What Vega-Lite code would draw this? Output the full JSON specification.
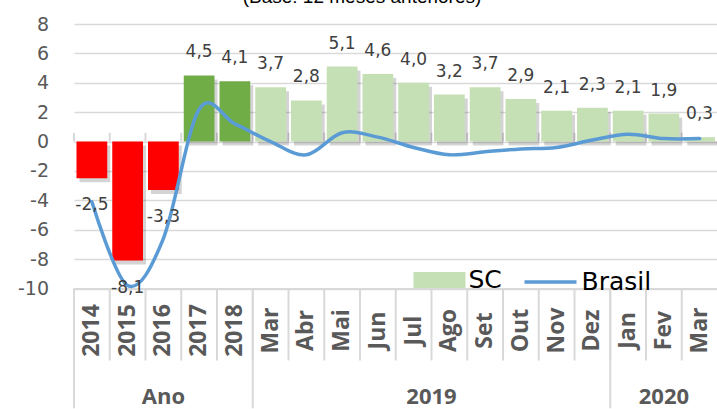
{
  "$schema": "https://vega.github.io/schema/vega-lite/v6.json",
  "width": 643.5,
  "height": 264.5,
  "padding": {"left": 5, "top": -12, "right": 0, "bottom": 0},
  "background": "#FFFFFF",
  "title": {"text": "(Base: 12 meses anteriores)", "font": "Liberation Sans", "fontSize": 19, "fontWeight": "normal", "color": "#000000", "anchor": "middle", "baseline": "alphabetic", "offset": -7, "dx": -33.75, "frame": "group"},
  "view": {"stroke": null},
  "data": {"values": [
    {"periodo": "2014", "grupo": "Ano", "SC": -2.5, "Brasil": -4.1},
    {"periodo": "2015", "grupo": "Ano", "SC": -8.1, "Brasil": -9.8},
    {"periodo": "2016", "grupo": "Ano", "SC": -3.3, "Brasil": -6.6},
    {"periodo": "2017", "grupo": "Ano", "SC": 4.5, "Brasil": 2.2},
    {"periodo": "2018", "grupo": "Ano", "SC": 4.1, "Brasil": 1.2},
    {"periodo": "2019-03", "grupo": "2019", "SC": 3.7, "Brasil": 0.0},
    {"periodo": "2019-04", "grupo": "2019", "SC": 2.8, "Brasil": -0.9},
    {"periodo": "2019-05", "grupo": "2019", "SC": 5.1, "Brasil": 0.6},
    {"periodo": "2019-06", "grupo": "2019", "SC": 4.6, "Brasil": 0.3},
    {"periodo": "2019-07", "grupo": "2019", "SC": 4.0, "Brasil": -0.4},
    {"periodo": "2019-08", "grupo": "2019", "SC": 3.2, "Brasil": -0.9},
    {"periodo": "2019-09", "grupo": "2019", "SC": 3.7, "Brasil": -0.7},
    {"periodo": "2019-10", "grupo": "2019", "SC": 2.9, "Brasil": -0.5},
    {"periodo": "2019-11", "grupo": "2019", "SC": 2.1, "Brasil": -0.4},
    {"periodo": "2019-12", "grupo": "2019", "SC": 2.3, "Brasil": 0.1},
    {"periodo": "2020-01", "grupo": "2020", "SC": 2.1, "Brasil": 0.5},
    {"periodo": "2020-02", "grupo": "2020", "SC": 1.9, "Brasil": 0.2},
    {"periodo": "2020-03", "grupo": "2020", "SC": 0.3, "Brasil": 0.2}
  ]},
  "encoding": {
    "x": {"field": "periodo", "type": "ordinal", "scale": {"type": "band", "paddingInner": 0, "paddingOuter": 0},
          "axis": {"orient": "bottom", "ticks": false, "domain": true, "domainColor": "#D9D9D9", "domainWidth": 2, "grid": false, "title": null,
                   "labelAngle": 270, "labelAlign": "center", "labelBaseline": "middle", "labelPadding": 41.5, "labelOverlap": false, "labelBound": false, "labelFlush": false,
                   "labelFont": "Open Sans", "labelFontSize": 23, "labelFontWeight": "bold", "labelColor": "#595959",
                   "labelExpr": "length(datum.value) > 4 ? ['Jan','Fev','Mar','Abr','Mai','Jun','Jul','Ago','Set','Out','Nov','Dez'][toNumber(substring(datum.value, 5, 7)) - 1] : datum.value"}}
  },
  "layer": [
    {
      "mark": {"type": "rule", "color": "#D9D9D9", "strokeWidth": 2},
      "encoding": {
        "x": {"field": "periodo", "type": "ordinal", "bandPosition": 0},
        "y": {"datum": -10, "type": "quantitative"},
        "y2": {"datum": -14.9}
      }
    },
    {
      "transform": [{"filter": "datum.periodo === '2014' || datum.periodo === '2019-03' || datum.periodo === '2020-01'"}],
      "mark": {"type": "rule", "color": "#D9D9D9", "strokeWidth": 2},
      "encoding": {
        "x": {"field": "periodo", "type": "ordinal", "bandPosition": 0},
        "y": {"datum": -10, "type": "quantitative"},
        "y2": {"datum": -18.15}
      }
    },
    {
      "mark": {"type": "rule", "color": "#D9D9D9", "strokeWidth": 2},
      "encoding": {
        "x": {"field": "periodo", "type": "ordinal", "bandPosition": 0},
        "y": {"datum": 0, "type": "quantitative"},
        "y2": {"datum": 0.6}
      }
    },
    {
      "mark": {"type": "bar", "color": "#000000", "opacity": 0.17, "width": {"band": 0.86}, "xOffset": 3, "yOffset": 4},
      "encoding": {
        "y": {"field": "SC", "type": "quantitative", "title": null}
      }
    },
    {
      "mark": {"type": "bar", "width": {"band": 0.86}},
      "encoding": {
        "y": {"field": "SC", "type": "quantitative", "title": null,
              "scale": {"domain": [-10, 8], "nice": false},
              "axis": {"values": [-10, -8, -6, -4, -2, 0, 2, 4, 6, 8], "tickCount": 20, "format": "d", "domain": false, "ticks": false, "labelPadding": 25.5, "labelOverlap": false,
                       "minExtent": 68.5, "maxExtent": 68.5, "labelExpr": "replace(datum.label, '\u2212', '-')",
                       "labelFont": "DejaVu Sans", "labelFontSize": 19, "labelColor": "#595959", "grid": true, "gridColor": "#D9D9D9", "gridWidth": 1.5, "title": null}},
        "color": {
          "condition": [
            {"test": "datum.SC < 0", "value": "#FF0000"},
            {"test": "datum.grupo === 'Ano'", "value": "#70AD47"}
          ],
          "value": "#C5E0B4"
        }
      }
    },
    {
      "transform": [{"filter": "datum.SC > 1000"}],
      "mark": {"type": "bar", "width": {"band": 0.86}},
      "encoding": {
        "y": {"field": "SC", "type": "quantitative", "title": null},
        "fill": {"datum": "SC", "scale": {"domain": ["SC"], "range": ["#C5E0B4"]},
                 "legend": {"orient": "none", "legendX": 339.5, "legendY": 230, "title": null, "symbolType": "M-1,-0.3077H1V0.3077H-1Z", "symbolSize": 2704, "symbolStrokeWidth": 0,
                            "labelFont": "DejaVu Sans", "labelFontSize": 25, "labelColor": "#000000", "labelOffset": 3, "padding": 0}}
      }
    },
    {
      "mark": {"type": "line", "interpolate": "cardinal", "strokeWidth": 3.5, "strokeCap": "round"},
      "encoding": {
        "y": {"field": "Brasil", "type": "quantitative", "title": null},
        "stroke": {"datum": "Brasil", "scale": {"domain": ["Brasil"], "range": ["#5B9BD5"]},
                   "legend": {"orient": "none", "legendX": 448.5, "legendY": 230, "title": null, "symbolType": "stroke", "symbolSize": 2704, "symbolStrokeWidth": 3.5,
                              "labelFont": "DejaVu Sans", "labelFontSize": 25, "labelColor": "#000000", "labelOffset": 3, "padding": 0}}
      }
    },
    {
      "transform": [{"filter": "datum.SC >= 0"}, {"calculate": "replace(replace(format(datum.SC, '.1f'), '.', ','), '\u2212', '-')", "as": "rotulo"}],
      "mark": {"type": "text", "font": "DejaVu Sans", "fontSize": 17, "color": "#404040", "baseline": "middle", "dy": -23},
      "encoding": {
        "y": {"field": "SC", "type": "quantitative", "title": null},
        "text": {"field": "rotulo"}
      }
    },
    {
      "transform": [{"filter": "datum.SC < 0"}, {"calculate": "replace(replace(format(datum.SC, '.1f'), '.', ','), '\u2212', '-')", "as": "rotulo"}],
      "mark": {"type": "text", "font": "DejaVu Sans", "fontSize": 17, "color": "#404040", "baseline": "middle", "dy": 27},
      "encoding": {
        "y": {"field": "SC", "type": "quantitative", "title": null},
        "text": {"field": "rotulo"}
      }
    },
    {
      "transform": [{"filter": "datum.periodo === '2016' || datum.periodo === '2020-02'"}],
      "mark": {"type": "text", "font": "Open Sans", "fontSize": 22, "fontWeight": "bold", "color": "#595959", "baseline": "middle"},
      "encoding": {
        "y": {"datum": -17.37, "type": "quantitative"},
        "text": {"field": "grupo"}
      }
    },
    {
      "transform": [{"filter": "datum.periodo === '2019-07'"}],
      "mark": {"type": "text", "font": "Open Sans", "fontSize": 22, "fontWeight": "bold", "color": "#595959", "baseline": "middle", "dx": 17.9},
      "encoding": {
        "y": {"datum": -17.37, "type": "quantitative"},
        "text": {"field": "grupo"}
      }
    }
  ]
}
